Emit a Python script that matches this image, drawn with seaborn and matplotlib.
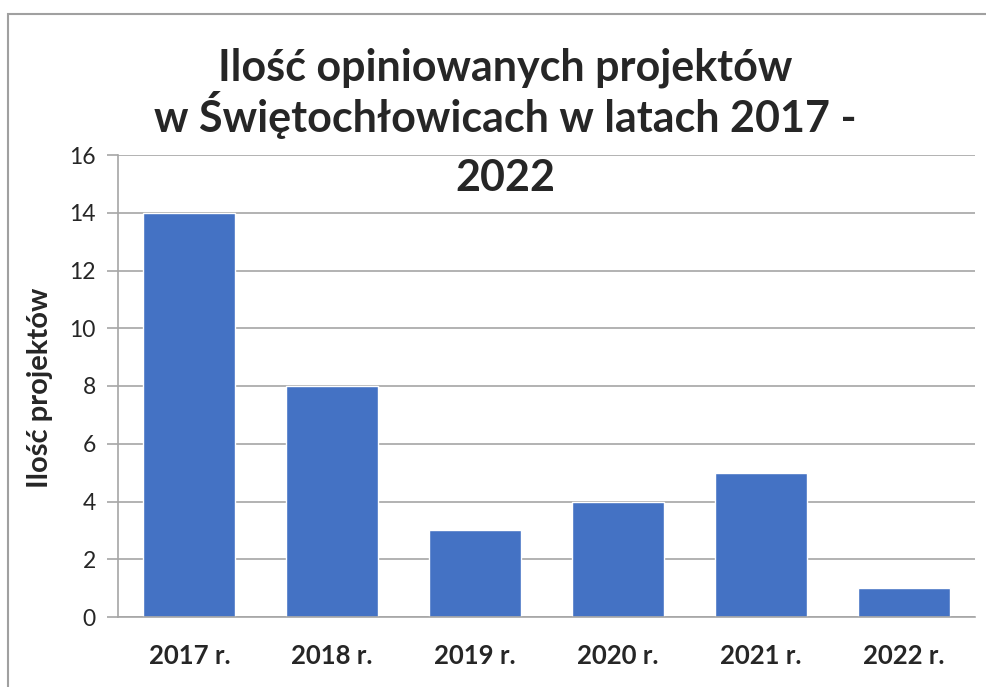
import matplotlib
matplotlib.use("Agg")
import matplotlib.pyplot as plt
import matplotlib.patches as mpatches
import seaborn as sns
import pandas as pd

# data
years = ['2017 r.', '2018 r.', '2019 r.', '2020 r.', '2021 r.', '2022 r.']
projects = [14, 8, 3, 4, 5, 1]
y_ticks = [0, 2, 4, 6, 8, 10, 12, 14, 16]
title_lines = ['Ilość opiniowanych projektów',
               'w Świętochłowicach w latach 2017 -',
               '2022']

df = pd.DataFrame({'rok': years, 'projekty': projects})

sns.set_style("white")
plt.rcParams['font.family'] = ['Lato', 'DejaVu Sans']

W, H = 987, 687
fig = plt.figure(figsize=(W / 100, H / 100), dpi=100)
ax = fig.add_axes([118 / W, 1 - 617 / H, (975 - 118) / W, (617 - 155) / H])

grid_col = '#A6A6A6'
ax.set_axisbelow(True)
ax.yaxis.grid(True, color=grid_col, linewidth=1.2)

sns.barplot(data=df, x='rok', y='projekty', color='#4472C4', saturation=1,
            width=0.645, ax=ax, zorder=2)

ax.set_ylim(0, 16)
ax.set_yticks(y_ticks)
ax.set_xlim(-0.5, len(years) - 0.5)

for side in ['top', 'right']:
    ax.spines[side].set_visible(False)
for side in ['left', 'bottom']:
    ax.spines[side].set_color(grid_col)
    ax.spines[side].set_linewidth(1.2)

ax.tick_params(axis='y', left=True, length=8, width=1.2, color=grid_col,
               labelsize=16.5, pad=8)
ax.tick_params(axis='x', bottom=False, labelsize=18.5, pad=16)
for lbl in ax.get_xticklabels():
    lbl.set_fontweight('bold')

ax.set_xlabel('')
ax.set_ylabel('Ilość projektów', fontsize=21, fontweight='bold', va='center')
ax.yaxis.set_label_coords((40 - 118) / (975 - 118), 0.495)

# title, one line at a time (baselines)
for line, base in zip(title_lines, [80, 132, 191]):
    fig.text(505 / W, 1 - base / H, line, ha='center', va='baseline',
             fontsize=31, fontweight='bold')

# chart frame
fig.patches.append(mpatches.Rectangle((8 / W, -0.1), 1.2, 1 - 14 / H + 0.1,
                                      transform=fig.transFigure, fill=False,
                                      edgecolor='#A0A0A0', linewidth=1.5))

fig.savefig('out.png', dpi=100)
